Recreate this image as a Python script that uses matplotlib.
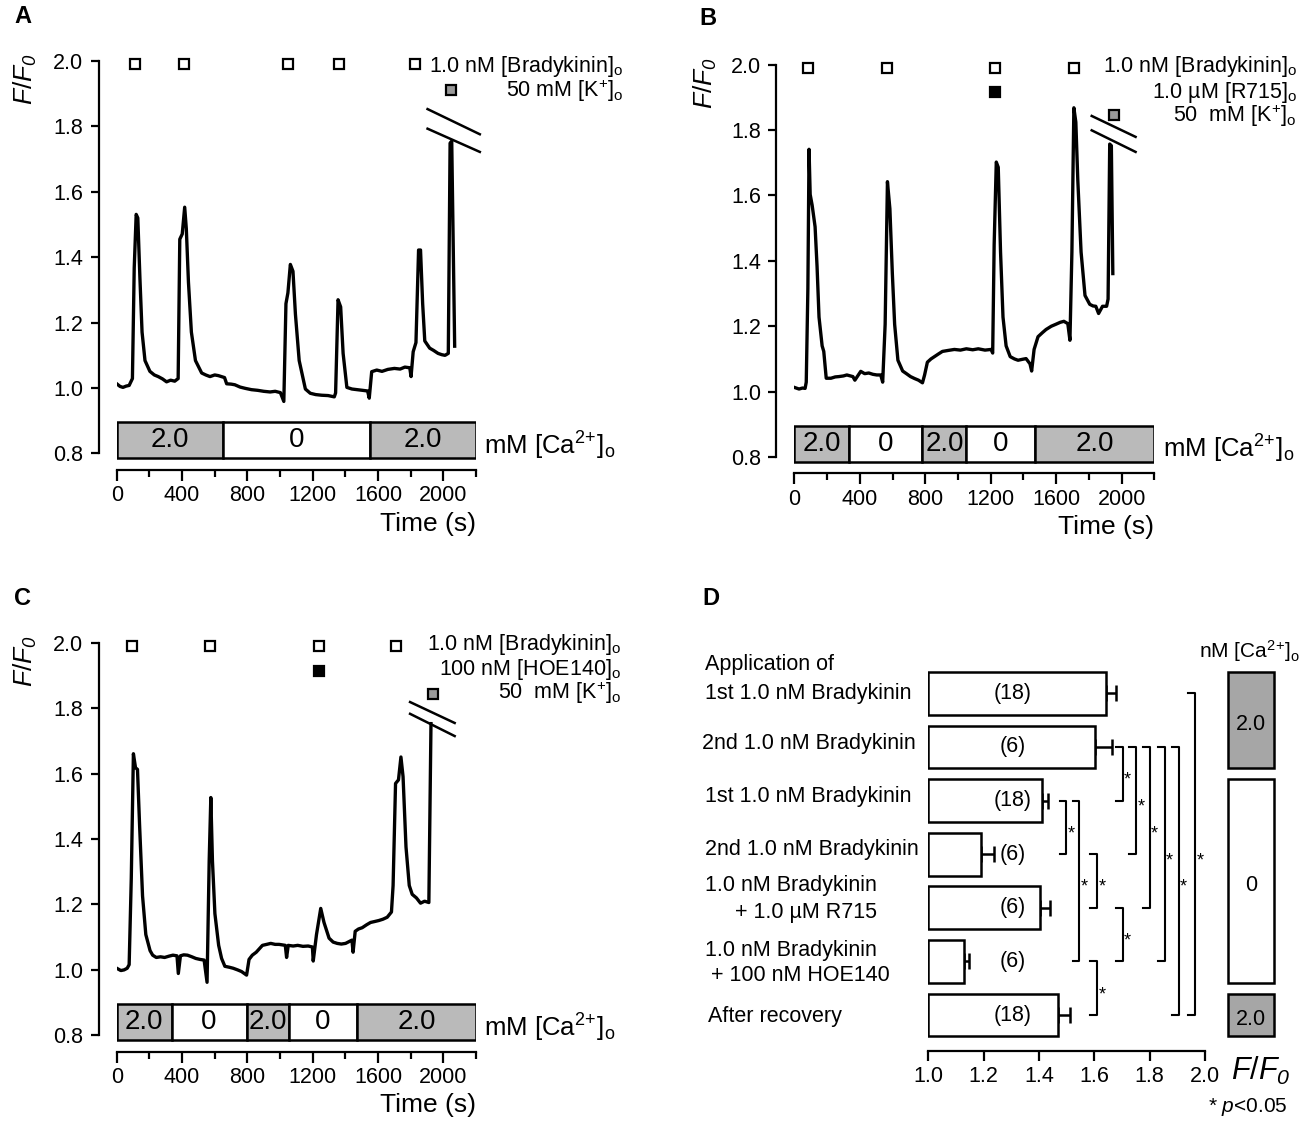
import matplotlib
matplotlib.use("Agg")
import matplotlib.pyplot as plt
from matplotlib.ticker import FormatStrFormatter

plt.rcParams['font.family'] = ['Liberation Sans', 'DejaVu Sans']
plt.rcParams['mathtext.fontset'] = 'custom'
plt.rcParams['mathtext.rm'] = 'Liberation Sans'
plt.rcParams['mathtext.it'] = 'Liberation Sans:italic'
plt.rcParams['mathtext.sf'] = 'Liberation Sans:italic'
plt.rcParams['mathtext.bf'] = 'Liberation Sans:bold'

# ---- panel A trace (time in s, F/F0) ----
a_time = [0, 20, 38, 58, 76, 96, 107, 119, 129, 142, 155, 173, 203, 230, 254, 280, 305, 330, 355, 376,
          386, 401, 416, 426, 439, 457, 482, 520, 545, 571, 600, 622, 660, 673, 700, 723, 755, 787, 825,
          863, 900, 939, 970, 1002, 1023, 1036, 1048, 1063, 1079, 1094, 1117, 1155, 1185, 1218, 1255,
          1294, 1332, 1340, 1355, 1371, 1386, 1409, 1440, 1472, 1505, 1536, 1546, 1561, 1592, 1624, 1660,
          1700, 1735, 1764, 1794, 1802, 1815, 1832, 1848, 1860, 1873, 1886, 1916, 1940, 1967, 1990, 2010,
          2030, 2041, 2051, 2069]
a_ratio = [1.013, 1.005, 1.002, 1.006, 1.008, 1.029, 1.367, 1.531, 1.520, 1.335, 1.171, 1.084, 1.051,
           1.040, 1.035, 1.028, 1.019, 1.024, 1.021, 1.029, 1.455, 1.471, 1.553, 1.487, 1.324, 1.171,
           1.084, 1.046, 1.040, 1.035, 1.040, 1.038, 1.032, 1.013, 1.012, 1.010, 1.003, 0.999, 0.995,
           0.993, 0.990, 0.988, 0.990, 0.986, 0.959, 1.258, 1.291, 1.378, 1.357, 1.226, 1.084, 0.997,
           0.984, 0.980, 0.978, 0.977, 0.973, 0.985, 1.270, 1.248, 1.106, 1.002, 0.997, 0.995, 0.993,
           0.991, 0.969, 1.050, 1.055, 1.051, 1.057, 1.060, 1.058, 1.064, 1.062, 1.035, 1.111, 1.139,
           1.422, 1.422, 1.258, 1.144, 1.122, 1.115, 1.106, 1.102, 1.100, 1.106, 1.749, 1.755, 1.128]

# ---- panel B trace ----
b_time = [0, 29, 50, 66, 73, 83, 90, 97, 109, 127, 139, 151, 170, 180, 195, 224, 250, 272, 300, 321,
          358, 370, 406, 430, 455, 480, 504, 528, 540, 555, 569, 584, 599, 613, 633, 662, 685, 710, 735,
          759, 783, 796, 813, 835, 856, 880, 905, 940, 978, 1015, 1051, 1090, 1124, 1165, 1202, 1212,
          1221, 1234, 1246, 1260, 1275, 1294, 1319, 1345, 1367, 1395, 1416, 1440, 1450, 1465, 1489, 1515,
          1538, 1570, 1598, 1625, 1647, 1671, 1684, 1696, 1708, 1720, 1732, 1752, 1776, 1805, 1825, 1842,
          1859, 1883, 1908, 1917, 1927, 1937, 1946]
b_ratio = [1.013, 1.008, 1.011, 1.010, 1.029, 1.316, 1.741, 1.603, 1.570, 1.504, 1.383, 1.228, 1.140,
           1.123, 1.041, 1.041, 1.045, 1.046, 1.048, 1.051, 1.046, 1.035, 1.062, 1.055, 1.057, 1.053,
           1.051, 1.051, 1.029, 1.206, 1.642, 1.559, 1.361, 1.206, 1.096, 1.063, 1.055, 1.046, 1.040,
           1.035, 1.027, 1.051, 1.090, 1.100, 1.107, 1.115, 1.123, 1.126, 1.129, 1.127, 1.131, 1.128,
           1.131, 1.127, 1.129, 1.118, 1.449, 1.702, 1.686, 1.427, 1.228, 1.140, 1.107, 1.100, 1.096,
           1.099, 1.101, 1.085, 1.063, 1.129, 1.168, 1.180, 1.190, 1.200, 1.206, 1.212, 1.215, 1.208,
           1.157, 1.427, 1.868, 1.824, 1.647, 1.427, 1.294, 1.267, 1.262, 1.261, 1.239, 1.261, 1.261,
           1.283, 1.757, 1.752, 1.361]

# ---- panel C trace ----
c_time = [0, 25, 45, 64, 76, 89, 102, 115, 127, 140, 158, 178, 204, 220, 242, 268, 293, 320, 344, 369,
          377, 390, 410, 433, 460, 484, 510, 535, 553, 566, 576, 586, 601, 624, 642, 662, 690, 713, 740,
          764, 795, 810, 830, 854, 892, 918, 943, 970, 994, 1032, 1040, 1050, 1080, 1108, 1140, 1172,
          1198, 1203, 1223, 1249, 1269, 1300, 1325, 1350, 1375, 1401, 1440, 1447, 1460, 1480, 1503, 1530,
          1554, 1580, 1605, 1630, 1656, 1682, 1692, 1707, 1725, 1740, 1753, 1771, 1791, 1809, 1835, 1860,
          1885, 1911, 1924]
c_ratio = [1.005, 0.998, 1.000, 1.005, 1.016, 1.280, 1.661, 1.618, 1.613, 1.441, 1.226, 1.108, 1.059,
           1.045, 1.038, 1.040, 1.038, 1.042, 1.045, 1.043, 0.989, 1.043, 1.046, 1.045, 1.040, 1.035,
           1.032, 1.030, 0.962, 1.333, 1.527, 1.333, 1.172, 1.075, 1.035, 1.011, 1.008, 1.005, 1.000,
           0.995, 0.984, 1.032, 1.045, 1.054, 1.075, 1.078, 1.081, 1.078, 1.078, 1.075, 1.038, 1.075,
           1.073, 1.075, 1.072, 1.073, 1.070, 1.027, 1.108, 1.188, 1.145, 1.097, 1.085, 1.081, 1.079,
           1.081, 1.091, 1.054, 1.118, 1.125, 1.129, 1.138, 1.145, 1.148, 1.151, 1.155, 1.161, 1.177,
           1.258, 1.570, 1.581, 1.651, 1.591, 1.376, 1.258, 1.231, 1.220, 1.204, 1.210, 1.206, 1.753]

# application times (s)
a_bk = [114, 409, 1048, 1358, 1827]
a_k = [2048]
b_bk = [85, 567, 1229, 1708]
b_ant = [1229]
b_k = [1951]
c_bk = [92, 573, 1236, 1712]
c_ant = [1236]
c_k = [1936]

# extracellular Ca2+ protocol: switch times and levels
a_ca_edges = [0, 652, 1548, 2200]
a_ca_levels = ['2.0', '0', '2.0']
b_ca_edges = [0, 333, 783, 1051, 1470, 2200]
b_ca_levels = ['2.0', '0', '2.0', '0', '2.0']
c_ca_edges = [0, 336, 795, 1057, 1470, 2200]
c_ca_levels = ['2.0', '0', '2.0', '0', '2.0']

CA = '[Ca$^{2\\!+\\!}$]$_\\mathrm{o}$'
FF0 = r'$F/F_{\mathsf{0}}$'
a_rows = ['1.0 nM [Bradykinin]$_\\mathrm{o}$', '50 mM [K$^{+}$]$_\\mathrm{o}$']
b_rows = ['1.0 nM [Bradykinin]$_\\mathrm{o}$', '1.0 µM [R715]$_\\mathrm{o}$', '50  mM [K$^{+}$]$_\\mathrm{o}$']
c_rows = ['1.0 nM [Bradykinin]$_\\mathrm{o}$', '100 nM [HOE140]$_\\mathrm{o}$', '50  mM [K$^{+}$]$_\\mathrm{o}$']

# ---- panel D summary ----
d_lines = ['Application of', '1st 1.0 nM Bradykinin', '2nd 1.0 nM Bradykinin', '1st 1.0 nM Bradykinin',
           '2nd 1.0 nM Bradykinin', '1.0 nM Bradykinin', '+ 1.0 µM R715', '1.0 nM Bradykinin',
           '+ 100 nM HOE140', 'After recovery']
d_mean = [1.641, 1.603, 1.409, 1.191, 1.404, 1.128, 1.468]
d_sem = [0.037, 0.061, 0.024, 0.047, 0.036, 0.017, 0.043]
d_n = [18, 6, 18, 6, 6, 6, 18]
d_pairs = [(1, 2), (1, 3), (1, 4), (1, 5), (1, 6), (0, 6), (2, 3), (2, 5), (3, 4), (4, 5), (5, 6)]
d_ca_levels = ['2.0', '0', '2.0']
d_ca_bars = [(0, 1), (2, 5), (6, 6)]

# layout
line_pos = [(0.192, -0.53), (0.192, 0.0), (0.180, 0.94), (0.192, 1.93), (0.192, 2.92), (0.192, 3.59),
            (0.300, 4.08), (0.192, 4.79), (0.215, 5.27), (0.201, 6.03)]
bracket_x = [1.702, 1.752, 1.801, 1.854, 1.905, 1.965, 1.499, 1.546, 1.610, 1.702, 1.610]

GRAY = '#bababa'
LW = 1.6

fig = plt.figure(figsize=(13, 11.25), dpi=100)


def trace_panel(rect, t, r, bk, ant, k, k_y, edges, levels, rows, row_y, text_x, brk, ylab_x):
    ax = fig.add_axes(rect)
    ax.plot(t, r, color='k', lw=2.4, zorder=3)
    ax.set_xlim(0, 2200)
    ax.set_ylim(0.75, 2.03)
    for s in ['top', 'right']:
        ax.spines[s].set_visible(False)
    ax.spines['left'].set_position(('outward', 13))
    ax.spines['left'].set_bounds(0.8, 2.0)
    ax.spines['bottom'].set_bounds(0, 2200)
    for s in ['left', 'bottom']:
        ax.spines[s].set_linewidth(LW)
    ax.set_yticks([0.8, 1.0, 1.2, 1.4, 1.6, 1.8, 2.0])
    ax.yaxis.set_major_formatter(FormatStrFormatter('%.1f'))
    ax.set_xticks([0, 400, 800, 1200, 1600, 2000])
    ax.set_xticks([200, 600, 1000, 1400, 1800, 2200], minor=True)
    ax.tick_params(axis='both', labelsize=15.5, width=LW, direction='out')
    ax.tick_params(axis='y', length=6, pad=5)
    ax.tick_params(axis='x', length=8, pad=3)
    ax.tick_params(axis='x', which='minor', width=LW, length=5)
    ax.set_xlabel('Time (s)', loc='right', fontsize=19, labelpad=4)
    ax.text(ylab_x, 0.995, FF0, rotation=90, ha='center', va='top',
            transform=ax.transAxes, fontsize=19)
    # Ca2+ protocol bar
    for x0, x1, lev in zip(edges[:-1], edges[1:], levels):
        ax.bar(x0, 0.11, width=x1 - x0, bottom=0.785, align='edge',
               facecolor=GRAY if lev != '0' else 'white', edgecolor='k', lw=1.8, zorder=2)
        ax.text((x0 + x1) / 2, 0.84, lev, ha='center', va='center', fontsize=20)
    ax.text(2250, 0.797, 'mM ' + CA, ha='left', va='baseline', fontsize=18.5)
    # applications
    ax.plot(bk, [1.99] * len(bk), 's', ms=7.5, mfc='white', mec='k', mew=1.6, clip_on=False)
    if ant:
        ax.plot(ant, [1.915] * len(ant), 's', ms=7.5, mfc='k', mec='k', mew=1.6, clip_on=False)
    ax.plot(k, [k_y] * len(k), 's', ms=7.5, mfc='#9a9a9a', mec='k', mew=1.6, clip_on=False)
    for txt, yy in zip(rows, row_y):
        ax.text(text_x, yy, txt, ha='right', va='baseline', fontsize=15.5)
    # axis break
    for ys in brk[1]:
        ax.plot(brk[0], ys, color='k', lw=1.8, clip_on=False)
    return ax


trace_panel([0.0898, 0.5824, 0.2764, 0.3721], a_time, a_ratio, a_bk, [], a_k, 1.911,
            a_ca_edges, a_ca_levels, a_rows, [1.967, 1.891], 3100,
            ([1903, 2223], [[1.853, 1.776], [1.793, 1.722]]), -0.255)
trace_panel([0.611, 0.5792, 0.2770, 0.3721], b_time, b_ratio, b_bk, b_ant, b_k, 1.846,
            b_ca_edges, b_ca_levels, b_rows, [1.978, 1.899, 1.824], 3071,
            ([1817, 2085], [[1.843, 1.779], [1.799, 1.733]]), -0.246)
trace_panel([0.0898, 0.0652, 0.2764, 0.3721], c_time, c_ratio, c_bk, c_ant, c_k, 1.844,
            c_ca_edges, c_ca_levels, c_rows, [1.978, 1.903, 1.828], 3088,
            ([1796, 2069], [[1.819, 1.755], [1.783, 1.715]]), -0.253)

# ---- panel D ----
ax = fig.add_axes([0.7142, 0.0658, 0.2127, 0.3417])
idx = list(range(len(d_mean)))
ax.barh(idx, [m - 1.0 for m in d_mean], left=1.0, height=0.8, facecolor='white',
        edgecolor='k', lw=1.8, zorder=2)
ax.errorbar(d_mean, idx, xerr=[[0] * len(d_sem), d_sem], fmt='none', ecolor='k',
            elinewidth=1.8, capsize=6, capthick=1.8, zorder=1)
for i, n in zip(idx, d_n):
    ax.text(1.305, i, '(%d)' % n, ha='center', va='center', fontsize=15.5, zorder=3)
for txt, (xx, yy) in zip(d_lines, line_pos):
    ax.text(xx, yy, txt, ha='left', va='center', fontsize=15.5)
for (i0, i1), bx in zip(d_pairs, bracket_x):
    ax.plot([bx - 0.025, bx, bx, bx - 0.025], [i0, i0, i1, i1], color='k', lw=1.5,
            clip_on=False)
    ax.text(bx + 0.004, (i0 + i1) / 2 + 0.12, '*', ha='left', va='center', fontsize=13)
for (i0, i1), lev in zip(d_ca_bars, d_ca_levels):
    ax.bar(2.085, (i1 + 0.4) - (i0 - 0.4), width=0.166, bottom=i0 - 0.4, align='edge',
           facecolor='#a6a6a6' if lev != '0' else 'white', edgecolor='k', lw=1.8, clip_on=False)
    ax.text(2.168, (i0 + i1) / 2 + 0.08, lev, ha='center', va='center', fontsize=15.5)
ax.text(2.16, -0.67, 'nM ' + CA, ha='center', va='baseline', fontsize=15)
ax.set_xlim(1.0, 2.0)
ax.set_ylim(6.67, -0.5)
for s in ['top', 'right', 'left']:
    ax.spines[s].set_visible(False)
ax.spines['bottom'].set_linewidth(LW)
ax.set_yticks([])
ax.set_xticks([1.0, 1.2, 1.4, 1.6, 1.8, 2.0])
ax.xaxis.set_major_formatter(FormatStrFormatter('%.1f'))
ax.tick_params(axis='x', labelsize=15.5, width=LW, length=7, direction='out', pad=4)
ax.text(2.094, 7.05, FF0, ha='left', va='center', fontsize=22, clip_on=False)
ax.text(2.30, 7.71, r'* $\mathit{p}$<0.05', ha='right', va='center', fontsize=15, clip_on=False)

# panel letters
for letter, (fx, fy) in zip('ABCD', [(0.011, 0.9956), (0.538, 0.9938), (0.011, 0.478), (0.54, 0.478)]):
    fig.text(fx, fy, letter, fontsize=17, fontweight='bold', ha='left', va='top')

fig.savefig('out.png', dpi=100)
